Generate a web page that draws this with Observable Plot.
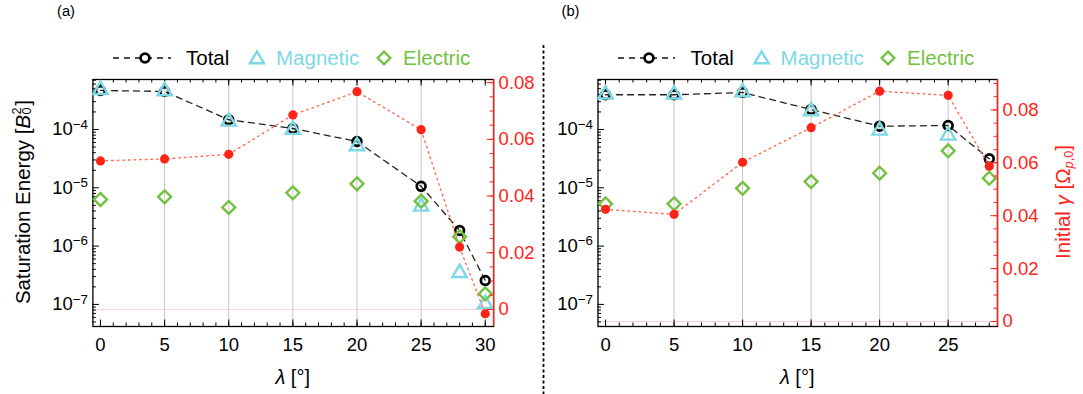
<!DOCTYPE html>
<html><head><meta charset="utf-8">
<script src="https://cdn.jsdelivr.net/npm/d3@7"></script>
<script src="https://cdn.jsdelivr.net/npm/@observablehq/plot@0.6"></script>
<style>
body{margin:0;background:#fff;font-family:"Liberation Sans",Arial,sans-serif;}
#root{position:relative;width:1083px;height:394px;overflow:hidden;background:#fff;}
.layer{position:absolute;top:0;}
.txt{position:absolute;white-space:nowrap;line-height:1;}
.rot{position:absolute;white-space:nowrap;line-height:1;transform:translate(-50%,-50%) rotate(-90deg);}
</style></head><body><div id="root"></div>
<script>
// ---------- data: panel (a) ----------
const lambdaA   = [0, 5, 10, 15, 20, 25, 28, 30];
const totalA    = [4.67e-4, 4.49e-4, 1.47e-4, 1.04e-4, 6.23e-5, 1.06e-5, 1.85e-6, 2.57e-7];
const magneticA = [4.79e-4, 4.54e-4, 1.37e-4, 9.9e-5, 5.17e-5, 4.77e-6, 3.48e-7, 1.02e-7];
const electricA = [6.3e-6, 7.0e-6, 4.6e-6, 8.2e-6, 1.17e-5, 5.9e-6, 1.45e-6, 1.52e-7];
const gammaA    = [0.0524, 0.0531, 0.0547, 0.0686, 0.0768, 0.0634, 0.0220, -0.0015];
// ---------- data: panel (b) ----------
const lambdaB   = [0, 5, 10, 15, 20, 25, 28];
const totalB    = [3.94e-4, 3.94e-4, 4.31e-4, 2.2e-4, 1.14e-4, 1.17e-4, 3.14e-5];
const magneticB = [4.0e-4, 4.0e-4, 4.36e-4, 2.06e-4, 9.6e-5, 7.9e-5, null];
const electricB = [5.3e-6, 5.3e-6, 9.8e-6, 1.28e-5, 1.78e-5, 4.3e-5, 1.46e-5];
const gammaB    = [0.0424, 0.0405, 0.0602, 0.0733, 0.0871, 0.0855, 0.0587];
// ---------- ticks ----------
const xTicksA = [0, 5, 10, 15, 20, 25, 30];
const xTicksB = [0, 5, 10, 15, 20, 25];
const gridX = [5, 10, 15, 20, 25];
const energyTicks = [1e-7, 1e-6, 1e-5, 1e-4];
const gammaTicks = [0, 0.02, 0.04, 0.06, 0.08];
const seriesNames = ["Total", "Magnetic", "Electric"];

const FONT = '"Liberation Sans", Arial, sans-serif';
const RED = "#ff2318", RED_LINE = "#ff6a4a", CYAN = "#7dd8e6", GREEN = "#74c040", GRID = "#c9c5c5";

const root = document.getElementById("root");

function supers(svg){
  svg.querySelectorAll("text").forEach(t=>{
    const m = /^10\^(-?\d+)$/.exec(t.textContent);
    if(!m) return;
    t.textContent = "10";
    const s = document.createElementNS("http://www.w3.org/2000/svg","tspan");
    s.setAttribute("dy","-0.5em"); s.setAttribute("font-size","0.72em");
    s.textContent = m[1].replace("-","\u2212");
    t.appendChild(s);
  });
}

function addLayer(svg, left, width){
  const d = document.createElement("div");
  d.className = "layer";
  d.style.left = left + "px"; d.style.width = width + "px"; d.style.height = "394px";
  d.appendChild(svg);
  root.appendChild(d);
}

function panel(cfg){
  const {left, width, mL, mR, xDomain, gDomain, lambda, total, magnetic, electric, gamma, xTicks} = cfg;
  const H = 394, mT = 79, mB = 68;
  const iw = width - mL - mR, ih = H - mT - mB;
  const rows = lambda.map((l,i)=>({lambda:l, total:total[i], magnetic:magnetic[i], electric:electric[i], gamma:gamma[i]}));
  const base = {width, height:H, marginLeft:mL, marginRight:mR, marginTop:mT, marginBottom:mB,
    style:{background:"transparent", fontFamily:FONT, fontSize:"18.5px", overflow:"visible"}};
  const xMinor = d3.range(0, Math.floor(xDomain[1]) + 1);
  const yMinor = [];
  for (let n = -8; n <= -4; n++) for (let k = 2; k <= 9; k++) { const v = k * Math.pow(10, n); if (v > cfg.yDomain[0] && v < cfg.yDomain[1]) yMinor.push(v); }
  const gMinor = d3.range(0, Math.floor(gDomain[1] / 0.005 + 1e-9) + 1).map(i => i * 0.005);

  // layer 1: zero line of growth-rate scale
  const l1 = Plot.plot({...base, x:{domain:xDomain, axis:null}, y:{domain:gDomain, axis:null},
    marks:[Plot.ruleY([0], {stroke:"#f4d3d3", strokeWidth:1.2})]});
  addLayer(l1, left, width);

  // layer 2: energies
  const l2 = Plot.plot({...base, x:{domain:xDomain}, y:{type:"log", domain:cfg.yDomain},
    marks:[
      Plot.ruleX(gridX, {stroke:GRID, strokeWidth:1}),
      Plot.frame({stroke:"#000", strokeWidth:1.3}),
      Plot.tickX(xMinor, {x:d=>d, insetTop:ih-3.5, stroke:"#000"}),
      Plot.tickX(xTicks, {x:d=>d, insetTop:ih-6.5, stroke:"#000"}),
      Plot.tickX(xMinor, {x:d=>d, insetBottom:ih-3.5, stroke:"#000"}),
      Plot.tickX(xTicks, {x:d=>d, insetBottom:ih-6.5, stroke:"#000"}),
      Plot.tickY(yMinor, {y:d=>d, insetRight:iw-3.5, stroke:"#000"}),
      Plot.tickY(energyTicks, {y:d=>d, insetRight:iw-6.5, stroke:"#000"}),
      Plot.axisX({ticks:xTicks, tickSize:0, tickPadding:11, label:null, fontSize:18.5, tickFormat:d=>String(d)}),
      Plot.axisY({ticks:energyTicks, tickSize:0, tickPadding:5, label:null, fontSize:18.5, tickFormat:d=>"10^"+Math.round(Math.log10(d))}),
      Plot.line(rows, {x:"lambda", y:"total", stroke:"#222", strokeWidth:1.3, strokeDasharray:"6,5"}),
      Plot.dot(rows, {x:"lambda", y:"total", symbol:"circle", r:4.4, stroke:"#000", strokeWidth:2.7, fill:"none"}),
      Plot.dot(rows.filter(d=>d.magnetic!=null), {x:"lambda", y:"magnetic", symbol:"triangle", r:5.3, stroke:CYAN, strokeWidth:2.4, fill:"none"}),
      Plot.dot(rows, {x:"lambda", y:"electric", symbol:"diamond2", r:5.8, stroke:GREEN, strokeWidth:2.4, fill:"none"})
    ]});
  supers(l2);
  addLayer(l2, left, width);

  // layer 3: growth rate (right axis)
  const l3 = Plot.plot({...base, x:{domain:xDomain, axis:null}, y:{domain:gDomain},
    marks:[
      Plot.ruleX([xDomain[1]], {stroke:RED, strokeWidth:1.4}),
      Plot.tickY(gMinor, {y:d=>d, insetLeft:iw-3.5, stroke:RED}),
      Plot.tickY(gammaTicks, {y:d=>d, insetLeft:iw-6.5, stroke:RED}),
      Plot.axisY({anchor:"right", ticks:gammaTicks, tickSize:0, tickPadding:5, label:null, fontSize:18.5, color:RED,
        tickFormat:d=> d===0 ? "0" : d3.format(".2f")(d)}),
      Plot.line(rows, {x:"lambda", y:"gamma", stroke:RED_LINE, strokeWidth:1.4, strokeDasharray:"1.6,4"}),
      Plot.dot(rows, {x:"lambda", y:"gamma", r:4.6, fill:RED, stroke:"none"})
    ]});
  addLayer(l3, left, width);
}

const yDomain = [4.18e-8, 7.2e-4];
panel({left:0, width:540, mL:92.4, mR:46.9, xDomain:[-0.59, 30.65], gDomain:[-0.006, 0.0811], yDomain,
  lambda:lambdaA, total:totalA, magnetic:magneticA, electric:electricA, gamma:gammaA, xTicks:xTicksA});
panel({left:544, width:539, mL:53.5, mR:86, xDomain:[-0.55, 28.6], gDomain:[-0.0019, 0.0915], yDomain,
  lambda:lambdaB, total:totalB, magnetic:magneticB, electric:electricB, gamma:gammaB, xTicks:xTicksB});

// ---------- texts ----------
function txt(html, x, baseline, fs, color, anchor){
  const d = document.createElement("div");
  d.className = "txt";
  d.innerHTML = html;
  d.style.fontSize = fs + "px";
  d.style.color = color || "#000";
  d.style.top = (baseline - 0.8465 * fs) + "px";
  d.style.left = x + "px";
  if (anchor === "middle") d.style.transform = "translateX(-50%)";
  root.appendChild(d);
  return d;
}
function rot(html, cx, cy, fs, color){
  const d = document.createElement("div");
  d.className = "rot";
  d.innerHTML = html;
  d.style.fontSize = fs + "px";
  d.style.color = color || "#000";
  d.style.left = cx + "px"; d.style.top = cy + "px";
  root.appendChild(d);
}
txt("(a)", 57, 16.5, 14.7);
txt("(b)", 561.5, 16.5, 14.7);
txt('<i>λ</i> [°]', 292.7, 384, 20, "#000", "middle");
txt('<i>λ</i> [°]', 797.2, 384, 20, "#000", "middle");
rot('Saturation Energy [<i>B</i><span style="position:relative;display:inline-block;width:0.45em;height:1em;vertical-align:top"><span style="position:absolute;left:0.02em;top:-0.12em;font-size:0.62em">2</span><span style="position:absolute;left:0.02em;top:0.62em;font-size:0.62em">0</span></span>]', 23, 202, 20.5);
rot('Initial <i>γ</i> [Ω<sub style="font-size:0.62em;vertical-align:-0.25em"><i>p</i>,0</sub>]', 1063.8, 201.5, 20.5, RED);

// legends
const legends = [
  {lineX:[113,171], circ:145, total:186, tri:257, mag:276, dia:384, ele:403},
  {lineX:[618,675], circ:649, total:690.6, tri:761.6, mag:780.6, dia:888, ele:907}
];
const NS = "http://www.w3.org/2000/svg";
const deco = document.createElementNS(NS, "svg");
deco.setAttribute("width", 1083); deco.setAttribute("height", 394);
deco.style.position = "absolute"; deco.style.left = "0"; deco.style.top = "0"; deco.style.pointerEvents = "none";
let inner = "";
const LY = 58;
legends.forEach(L=>{
  inner += `<line x1="${L.lineX[0]}" x2="${L.lineX[1]}" y1="${LY}" y2="${LY}" stroke="#111" stroke-width="1.3" stroke-dasharray="6,5"/>`;
  inner += `<circle cx="${L.circ}" cy="${LY}" r="4.4" fill="#fff" stroke="#000" stroke-width="2.7"/>`;
  inner += `<polygon points="${L.tri},${LY-6.6} ${L.tri-7},${LY+5.2} ${L.tri+7},${LY+5.2}" fill="none" stroke="${CYAN}" stroke-width="2.4" stroke-linejoin="miter"/>`;
  inner += `<polygon points="${L.dia},${LY-6.3} ${L.dia+6.3},${LY} ${L.dia},${LY+6.3} ${L.dia-6.3},${LY}" fill="none" stroke="${GREEN}" stroke-width="2.4"/>`;
  txt(seriesNames[0], L.total, 65, 20.5, "#000");
  txt(seriesNames[1], L.mag, 65, 20.5, CYAN);
  txt(seriesNames[2], L.ele, 65, 20.5, GREEN);
});
inner += `<line x1="543.5" x2="543.5" y1="45" y2="394" stroke="#000" stroke-width="1.8" stroke-dasharray="3,2.5"/>`;
deco.innerHTML = inner;
root.appendChild(deco);
</script></body></html>
